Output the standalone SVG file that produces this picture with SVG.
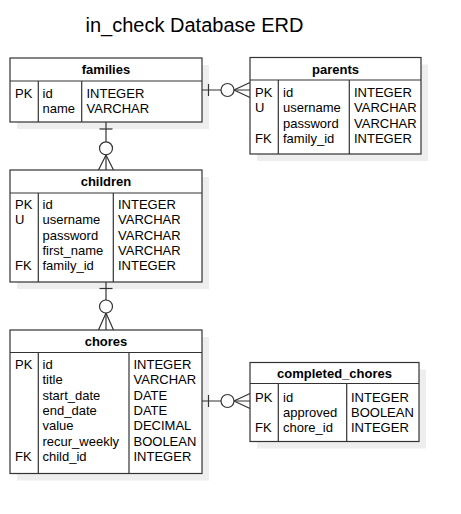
<svg xmlns="http://www.w3.org/2000/svg" width="461" height="514" viewBox="0 0 461 514">
<style>
.bg{fill:#ffffff}
.shadow{fill:#eeeeee;stroke:none}
.box{fill:#ffffff;stroke:#333333;stroke-width:1.2}
.ln{stroke:#333333;stroke-width:1.2;fill:none}
.hd{font-family:"Liberation Sans",Arial,sans-serif;font-size:13px;font-weight:bold;fill:#000;text-anchor:middle}
.tx{font-family:"Liberation Sans",Arial,sans-serif;font-size:13px;fill:#000}
.title{font-family:"Liberation Sans",Arial,sans-serif;font-size:20px;fill:#000;text-anchor:middle}
.cn{stroke:#333333;stroke-width:1.2;fill:none}
.cc{stroke:#333333;stroke-width:1.2;fill:#ffffff}
</style>
<rect class="bg" x="0" y="0" width="461" height="514"/>
<text class="title" x="194.5" y="32">in_check Database ERD</text>

<g id="families">
<rect class="shadow" x="17" y="65" width="192" height="64"/>
<rect class="box" x="10" y="58" width="192" height="64"/>
<line class="ln" x1="10" y1="81" x2="202" y2="81"/>
<line class="ln" x1="38.3" y1="81" x2="38.3" y2="122"/>
<line class="ln" x1="81.7" y1="81" x2="81.7" y2="122"/>
<text class="hd" x="106" y="74">families</text>
<text class="tx" x="15" y="97.5">PK</text>
<text class="tx" x="42.5" y="97.5">id</text>
<text class="tx" x="42.5" y="113">name</text>
<text class="tx" x="86.5" y="97.5">INTEGER</text>
<text class="tx" x="86.5" y="113">VARCHAR</text>
</g>

<g id="parents">
<rect class="shadow" x="257" y="64.5" width="171" height="96.5"/>
<rect class="box" x="250" y="57.5" width="171" height="96.5"/>
<line class="ln" x1="250" y1="80" x2="421" y2="80"/>
<line class="ln" x1="278.3" y1="80" x2="278.3" y2="154"/>
<line class="ln" x1="349.3" y1="80" x2="349.3" y2="154"/>
<text class="hd" x="335.5" y="73.5">parents</text>
<text class="tx" x="255" y="97">PK</text>
<text class="tx" x="255" y="112.3">U</text>
<text class="tx" x="255" y="143">FK</text>
<text class="tx" x="283" y="97">id</text>
<text class="tx" x="283" y="112.3">username</text>
<text class="tx" x="283" y="127.6">password</text>
<text class="tx" x="283" y="143">family_id</text>
<text class="tx" x="354" y="97">INTEGER</text>
<text class="tx" x="354" y="112.3">VARCHAR</text>
<text class="tx" x="354" y="127.6">VARCHAR</text>
<text class="tx" x="354" y="143">INTEGER</text>
</g>

<g id="children">
<rect class="shadow" x="17" y="177" width="192" height="112"/>
<rect class="box" x="10" y="170" width="192" height="112"/>
<line class="ln" x1="10" y1="193" x2="202" y2="193"/>
<line class="ln" x1="38.3" y1="193" x2="38.3" y2="282"/>
<line class="ln" x1="113.3" y1="193" x2="113.3" y2="282"/>
<text class="hd" x="106" y="186">children</text>
<text class="tx" x="15" y="209">PK</text>
<text class="tx" x="15" y="224.3">U</text>
<text class="tx" x="15" y="270">FK</text>
<text class="tx" x="42.5" y="209">id</text>
<text class="tx" x="42.5" y="224.3">username</text>
<text class="tx" x="42.5" y="239.6">password</text>
<text class="tx" x="42.5" y="254.8">first_name</text>
<text class="tx" x="42.5" y="270">family_id</text>
<text class="tx" x="118" y="209">INTEGER</text>
<text class="tx" x="118" y="224.3">VARCHAR</text>
<text class="tx" x="118" y="239.6">VARCHAR</text>
<text class="tx" x="118" y="254.8">VARCHAR</text>
<text class="tx" x="118" y="270">INTEGER</text>
</g>

<g id="chores">
<rect class="shadow" x="17" y="337" width="192" height="143.5"/>
<rect class="box" x="10" y="330" width="192" height="143.5"/>
<line class="ln" x1="10" y1="352.5" x2="202" y2="352.5"/>
<line class="ln" x1="38.3" y1="352.5" x2="38.3" y2="473.5"/>
<line class="ln" x1="129" y1="352.5" x2="129" y2="473.5"/>
<text class="hd" x="106" y="346">chores</text>
<text class="tx" x="15" y="369">PK</text>
<text class="tx" x="15" y="461">FK</text>
<text class="tx" x="42.5" y="369">id</text>
<text class="tx" x="42.5" y="384.3">title</text>
<text class="tx" x="42.5" y="399.6">start_date</text>
<text class="tx" x="42.5" y="415">end_date</text>
<text class="tx" x="42.5" y="430.3">value</text>
<text class="tx" x="42.5" y="445.6">recur_weekly</text>
<text class="tx" x="42.5" y="461">child_id</text>
<text class="tx" x="133.5" y="369">INTEGER</text>
<text class="tx" x="133.5" y="384.3">VARCHAR</text>
<text class="tx" x="133.5" y="399.6">DATE</text>
<text class="tx" x="133.5" y="415">DATE</text>
<text class="tx" x="133.5" y="430.3">DECIMAL</text>
<text class="tx" x="133.5" y="445.6">BOOLEAN</text>
<text class="tx" x="133.5" y="461">INTEGER</text>
</g>

<g id="completed_chores">
<rect class="shadow" x="257" y="369.5" width="169" height="79"/>
<rect class="box" x="250" y="362.5" width="169" height="79"/>
<line class="ln" x1="250" y1="383.5" x2="419" y2="383.5"/>
<line class="ln" x1="278.3" y1="383.5" x2="278.3" y2="441.5"/>
<line class="ln" x1="346.7" y1="383.5" x2="346.7" y2="441.5"/>
<text class="hd" x="334.5" y="377.5">completed_chores</text>
<text class="tx" x="255" y="401.5">PK</text>
<text class="tx" x="255" y="432">FK</text>
<text class="tx" x="283" y="401.5">id</text>
<text class="tx" x="283" y="416.8">approved</text>
<text class="tx" x="283" y="432">chore_id</text>
<text class="tx" x="351" y="401.5">INTEGER</text>
<text class="tx" x="351" y="416.8">BOOLEAN</text>
<text class="tx" x="351" y="432">INTEGER</text>
</g>

<g id="connectors">
<!-- families - parents -->
<line class="cn" x1="202" y1="90" x2="250" y2="90"/>
<line class="cn" x1="208.5" y1="84" x2="208.5" y2="96"/>
<polyline class="cn" points="250,82.5 234,90 250,97.5"/>
<circle class="cc" cx="227.5" cy="90" r="6.5"/>
<!-- families - children -->
<line class="cn" x1="106" y1="122" x2="106" y2="170"/>
<line class="cn" x1="99.5" y1="129" x2="112.5" y2="129"/>
<polyline class="cn" points="98.5,170 106,155 113.5,170"/>
<circle class="cc" cx="106" cy="148.3" r="6.5"/>
<!-- children - chores -->
<line class="cn" x1="106" y1="282" x2="106" y2="330"/>
<line class="cn" x1="99.5" y1="288.5" x2="112.5" y2="288.5"/>
<polyline class="cn" points="98.5,330 106,313 113.5,330"/>
<circle class="cc" cx="106" cy="306.5" r="6.5"/>
<!-- chores - completed_chores -->
<line class="cn" x1="202" y1="401" x2="250" y2="401"/>
<line class="cn" x1="208.5" y1="395" x2="208.5" y2="407"/>
<polyline class="cn" points="250,393.5 234,401 250,408.5"/>
<circle class="cc" cx="227.5" cy="401" r="6.5"/>
</g>
</svg>
